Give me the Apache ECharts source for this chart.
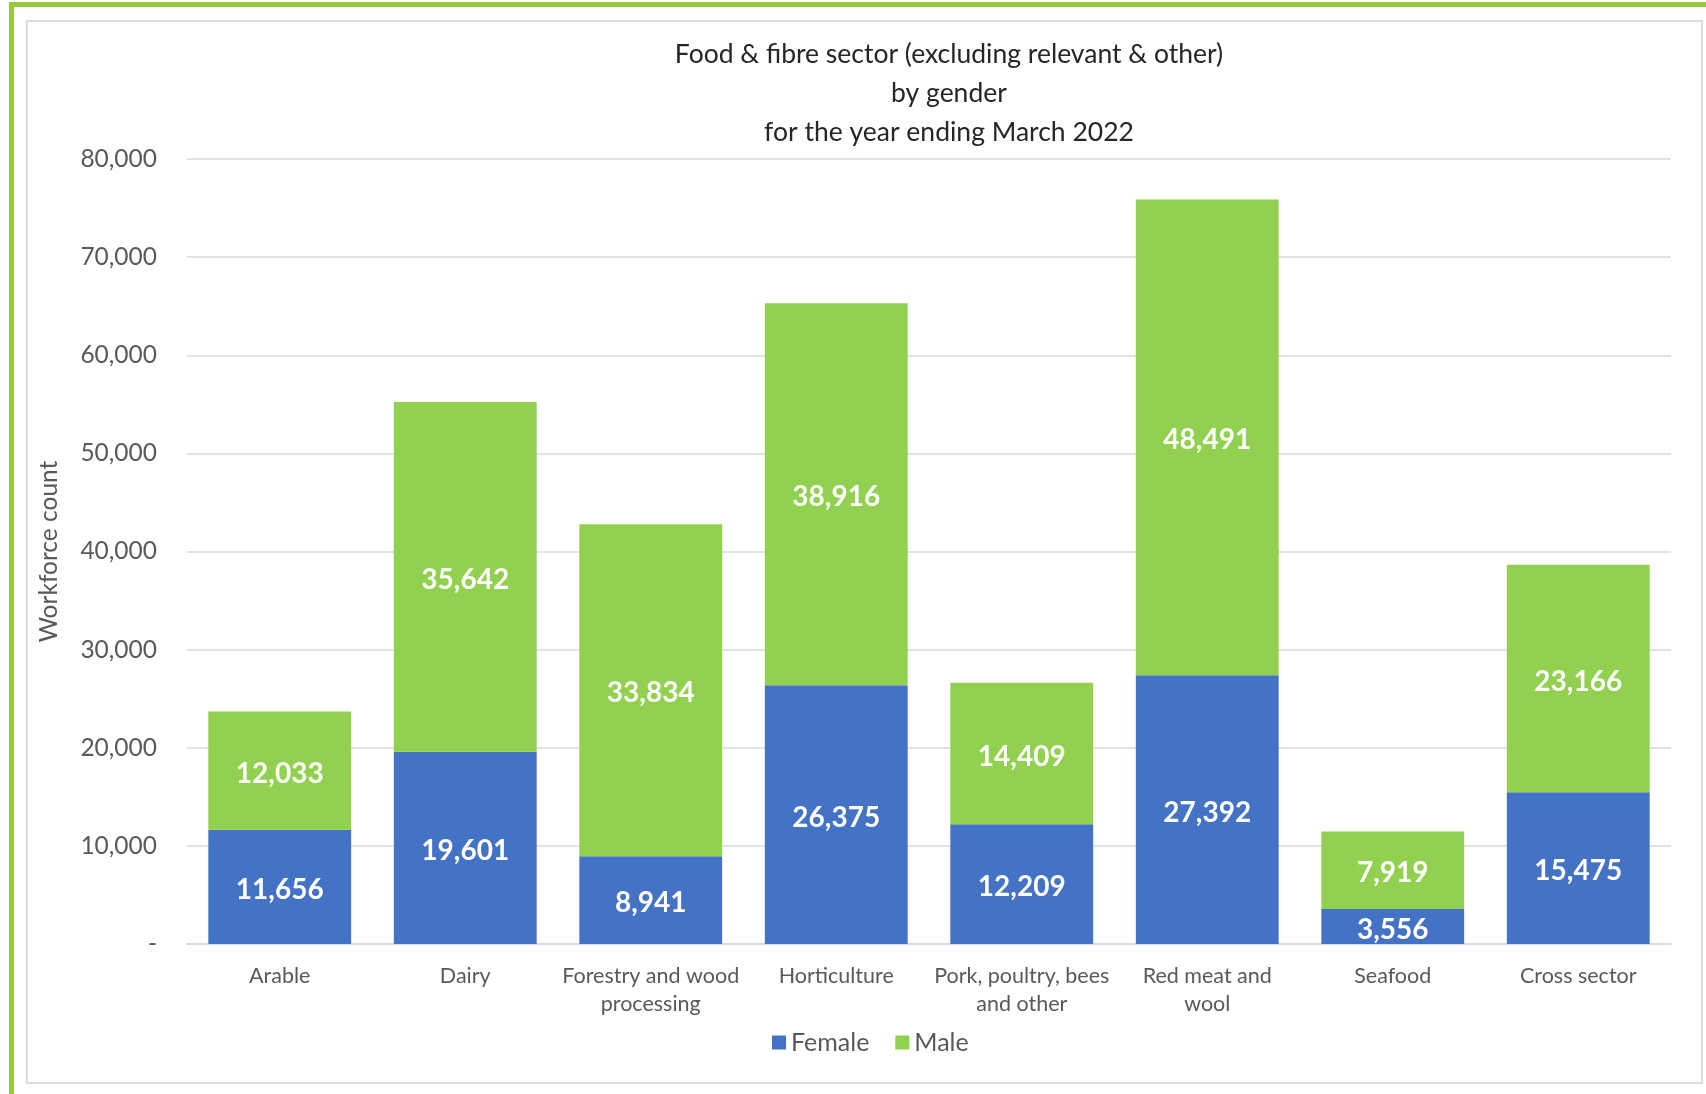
<!DOCTYPE html>
<html>
<head>
<meta charset="utf-8">
<script src="https://cdn.jsdelivr.net/npm/echarts@6/dist/echarts.min.js"></script>
<style>
html,body{margin:0;padding:0;background:#fff;width:1706px;height:1094px;overflow:hidden;}
#outer{position:absolute;left:9px;top:2px;width:1720px;height:1120px;border:5px solid #99C73B;box-sizing:border-box;}
#inner{position:absolute;left:26px;top:20px;width:1677px;height:1064px;border:2px solid #DCDCDC;box-sizing:border-box;background:#fff;}
#chart{position:absolute;left:0;top:0;width:1706px;height:1094px;}
</style>
</head>
<body>
<div id="outer"></div>
<div id="inner"></div>
<div id="chart"></div>
<script>
const categories = ["Arable","Dairy","Forestry and wood\nprocessing","Horticulture","Pork, poultry, bees\nand other","Red meat and\nwool","Seafood","Cross sector"];
const female = [11656,19601,8941,26375,12209,27392,3556,15475];
const male = [12033,35642,33834,38916,14409,48491,7919,23166];
const yTicks = [0,10000,20000,30000,40000,50000,60000,70000,80000];
const titleText = "Food & fibre sector (excluding relevant & other)\nby gender\nfor the year ending March 2022";

const FONT = 'Lato';
const fmt = v => v.toLocaleString('en-US');
const chart = echarts.init(document.getElementById('chart'), null, {renderer:'canvas'});
const labelStyle = {show:true, position:'inside', offset:[0,3], color:'#fff', fontFamily:FONT, fontWeight:'bold', fontSize:28, formatter:p=>fmt(p.value)};
chart.setOption({
  backgroundColor:'transparent',
  animation:false,
  title:{text:titleText, left:944, textAlign:'center', top:30,
    textStyle:{fontFamily:FONT, fontWeight:'normal', fontSize:26.5, color:'#262626', lineHeight:39}},
  legend:{left:767, top:1025, itemWidth:14, itemHeight:14, itemGap:26,
    icon:'rect', textStyle:{fontFamily:FONT, fontSize:25, color:'#595959'}},
  grid:{left:187, right:35, top:159, bottom:150},
  xAxis:{type:'category', data:categories,
    axisLine:{lineStyle:{color:'#D9D9D9', width:2}}, axisTick:{show:false},
    axisLabel:{fontFamily:FONT, fontSize:21.5, color:'#595959', lineHeight:28, margin:18, interval:0}},
  yAxis:{type:'value', min:yTicks[0], max:yTicks[yTicks.length-1], interval:10000,
    name:'Workforce count', nameLocation:'middle', nameGap:125, nameRotate:90,
    nameTextStyle:{fontFamily:FONT, fontSize:24.5, color:'#595959'},
    axisLine:{show:false}, axisTick:{show:false},
    splitLine:{lineStyle:{color:'#D9D9D9', width:1.5}},
    axisLabel:{fontFamily:FONT, fontSize:24.5, color:'#595959', margin:30, formatter:v=> v===0?'-':fmt(v)}},
  series:[
    {name:'Female', type:'bar', stack:'g', data:female, itemStyle:{color:'#4472C4'}, barCategoryGap:'23%', label:labelStyle},
    {name:'Male', type:'bar', stack:'g', data:male, itemStyle:{color:'#92D050'}, barCategoryGap:'23%', label:labelStyle}
  ]
});
</script>
</body>
</html>
